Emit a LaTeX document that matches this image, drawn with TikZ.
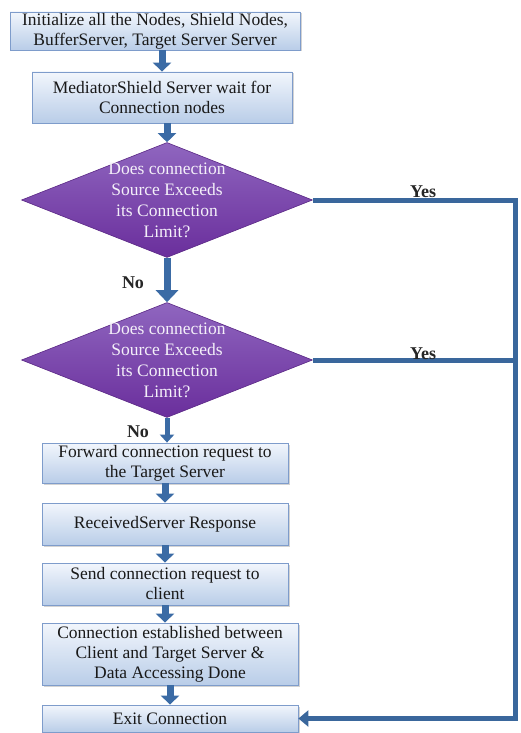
\documentclass[tikz,border=0pt]{standalone}
\usepackage{fontspec}
\setmainfont{Liberation Serif}
\usetikzlibrary{shapes.geometric,arrows.meta,shadows}
\definecolor{flowbox}{HTML}{B9CDE8}
\definecolor{flowboxtop}{HTML}{F2F6FC}
\definecolor{flowborder}{HTML}{7E9CCB}
\definecolor{flowdec}{HTML}{6A2E9C}
\definecolor{flowdectop}{HTML}{8F66BF}
\definecolor{flowarrow}{HTML}{3B6BA5}
\definecolor{flowline}{HTML}{3A679C}

\tikzset{
  procbox/.style={rectangle, draw=flowborder, line width=0.8pt, top color=flowboxtop, bottom color=flowbox,
    align=center, inner sep=1pt, text=black!90, font=\fontsize{17.5}{20}\selectfont,
    drop shadow={shadow xshift=1.5pt, shadow yshift=-1.5pt, opacity=0.35}},
  decision/.style={diamond, draw=flowdec!85!black, line width=0.6pt, top color=flowdectop, bottom color=flowdec,
    align=center, inner sep=-6pt, shape aspect=2.53, text=white!90!flowdectop, font=\fontsize{17.5}{21}\selectfont,
    minimum width=291pt, minimum height=115pt},
  flow/.style={draw=flowarrow, line width=7pt, -{Triangle[width=18pt,length=9pt]}},
  yesline/.style={draw=flowline, line width=5pt},
  branchlabel/.style={font=\bfseries\fontsize{18}{20}\selectfont, text=black!85}
}

\begin{document}
\begin{tikzpicture}[x=1pt, y=-1pt]
  \useasboundingbox (0,0) rectangle (520,733);

  % Start
  \node[procbox, minimum width=290pt, minimum height=38pt] (init) at (155,31)
    {Initialize all the Nodes, Shield Nodes,\\BufferServer, Target Server Server};
  \node[procbox, minimum width=260pt, minimum height=51pt] (wait) at (162,97.5)
    {MediatorShield Server wait for\\Connection nodes};

  \draw[flow] (init.south -| wait.north) -- (wait.north);

  % Decisions
  \node[decision] (dec1) at (167,200)
    {Does connection\\Source Exceeds\\its Connection\\Limit?};
  \node[decision] (dec2) at (167,360)
    {Does connection\\Source Exceeds\\its Connection\\Limit?};

  \draw[flow] (wait.south -| dec1.north) -- (dec1.north);
  \draw[flow, -{Triangle[width=22pt,length=12pt]}] (dec1.south) -- (dec2.north);
  \node[branchlabel] (no1) at (133,283) {No};
  \node[branchlabel] (no2) at (138,432) {No};

  % Forwarding steps
  \node[procbox, minimum width=246pt, minimum height=40pt] (forward) at (165,463)
    {Forward connection request to\\the Target Server};
  \node[procbox, minimum width=246pt, minimum height=42pt] (response) at (165,524)
    {ReceivedServer Response};
  \node[procbox, minimum width=246pt, minimum height=42pt] (send) at (165,584)
    {Send connection request to\\client};
  \node[procbox, minimum width=256pt, minimum height=62pt] (established) at (170,654)
    {Connection established between\\Client and Target Server \&\\Data Accessing Done};
  \node[procbox, minimum width=256pt, minimum height=27pt] (exit) at (170,718.5)
    {Exit Connection};

  \draw[flow, line width=5pt, -{Triangle[width=14pt,length=8pt]}] (dec2.south) -- (dec2.south |- forward.north);
  \draw[flow] (forward) -- (response);
  \draw[flow] (response) -- (send);
  \draw[flow] (send.south) -- (send.south |- established.north);
  \draw[flow] (established) -- (exit);

  % Yes branches
  \coordinate (rail) at (515,204);
  \draw[yesline, -{Triangle[width=16pt,length=10pt]}] (dec1.east) -- (dec1.east -| rail)
    -- (exit.east -| rail) -- (exit.east);
  \draw[yesline] (dec2.east) -- (dec2.east -| rail);
  \node[branchlabel] (yes1) at (423,192) {Yes};
  \node[branchlabel] (yes2) at (423,354) {Yes};
\end{tikzpicture}
\end{document}
